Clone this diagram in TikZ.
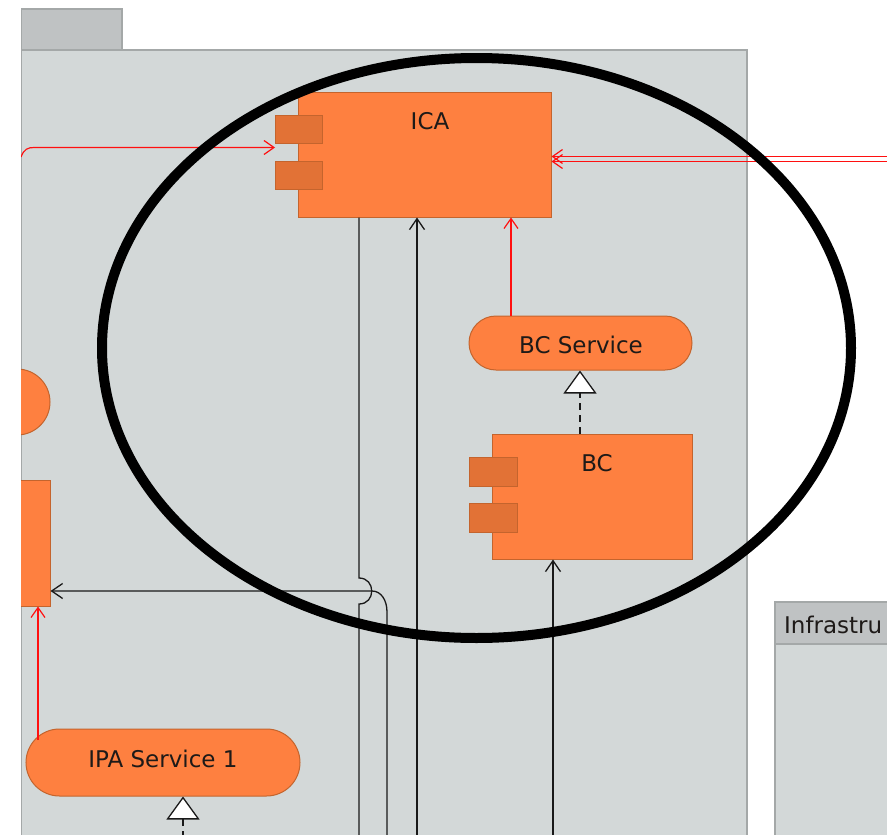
\documentclass[tikz,border=0pt]{standalone}
\usepackage{fontspec}
\setmainfont{DejaVu Sans}
\usetikzlibrary{arrows.meta,shapes.misc}
\definecolor{pkg}{HTML}{D3D8D8}
\definecolor{tabc}{HTML}{BFC2C3}
\definecolor{pkgline}{HTML}{A4A8A8}
\definecolor{orng}{HTML}{FE8040}
\definecolor{orngline}{HTML}{C4642D}
\definecolor{portc}{HTML}{E27236}
\definecolor{txt}{HTML}{1E1A18}
\definecolor{flowred}{HTML}{FF1010}
\begin{document}
\begin{tikzpicture}[x=1pt,y=-1pt,
  comp/.style={draw=orngline, fill=orng, line width=1pt, inner sep=0pt, rectangle},
  portbox/.style={draw=orngline, fill=portc, line width=1pt, minimum width=47pt, minimum height=28pt, inner sep=0pt},
  iface/.style={draw=orngline, fill=orng, line width=1pt, rounded rectangle, inner sep=0pt},
  lbl/.style={font=\fontsize{23}{28}\selectfont, text=txt, inner sep=0pt},
  pkgbox/.style={fill=pkg, draw=pkgline, line width=1.2pt},
  depline/.style={draw=black!90, line width=1.3pt},
  deparrow/.style={depline, -{Straight Barb[length=11pt,width=15pt,line width=1.3pt]}},
  redflow/.style={draw=flowred, line width=1.2pt, -{Straight Barb[length=10pt,width=14pt,line width=1.2pt]}},
  realize/.style={draw=black!90, line width=1.3pt, dash pattern=on 7pt off 5pt,
    -{Triangle[fill=white,length=23pt,width=33pt,line width=1.3pt]}},
  bigoval/.style={draw=black, line width=10pt}
]
\useasboundingbox (0,0) rectangle (887,835);
\fill[white] (0,0) rectangle (887,835);
\clip (21,0) rectangle (887,835);

% packages
\draw[pkgbox, fill=tabc] (21,9) rectangle (122,50);
\draw[pkgbox] (21,50) rectangle (747,850);
\draw[pkgbox] (775,602) rectangle (900,850);
\draw[pkgbox, fill=tabc] (775,602) rectangle (900,644);
\node[lbl, anchor=west] (infra) at (784,625) {Infrastru};

% left partial elements
\node[comp, circle, minimum size=66pt] (lcirc) at (17,402) {};
\node[comp, minimum width=70pt, minimum height=126pt] (lbox) at (15,543) {};

% ICA
\node[comp, minimum width=253pt, minimum height=125pt] (ica) at (424.5,154.5) {};
\node[portbox] (icap1) at (299,129) {};
\node[portbox] (icap2) at (299,175) {};
\node[lbl] (icat) at (430,121) {ICA};

% BC Service
\node[iface, minimum width=223pt, minimum height=54pt] (bcs) at (580.5,343) {};
\node[lbl] (bcst) at (581,345) {BC Service};

% BC
\node[comp, minimum width=200pt, minimum height=125pt] (bc) at (592,496.5) {};
\node[portbox, minimum width=48pt, minimum height=29pt] (bcp1) at (493,471.5) {};
\node[portbox, minimum width=48pt, minimum height=29pt] (bcp2) at (493,517.5) {};
\node[lbl] (bct) at (597,463) {BC};

% IPA Service 1
\node[iface, minimum width=274pt, minimum height=67pt] (ipa) at (163,762.5) {};
\node[lbl] (ipat) at (163,759) {IPA Service 1};

% free ends
\coordinate (redL) at (21,157);
\coordinate (rr1) at (890,156.5);
\coordinate (rr2) at (890,161.5);
\coordinate (ipaT) at (38,740);
\coordinate (b359) at (359,850);
\coordinate (b387) at (387,850);
\coordinate (b417) at (417,850);
\coordinate (b553) at (553,850);
\coordinate (b183) at (183,850);

% red connectors
\draw[redflow] (redL) .. controls (24,149) and (28,147.5) .. (34,147.5) -- (icap1.west |- 0,147.5);
\draw[redflow] (rr1) -- (ica.east |- rr1);
\draw[redflow] (rr2) -- (ica.east |- rr2);
\draw[redflow] (bcs.north -| 511,0) -- (ica.south -| 511,0);
\draw[redflow] (ipaT) -- (lbox.south -| ipaT);

% black connectors
\draw[depline] (ica.south -| b359) -- (359,578) .. controls (376,578) and (376,604) .. (359,604) -- (b359);
\draw[deparrow] (b387) -- (387,612) .. controls (387,600) and (381,591) .. (372,591) -- (lbox.east |- 0,591);
\draw[deparrow] (b417) -- (ica.south -| b417);
\draw[deparrow] (b553) -- (bc.south -| b553);

% realizations
\draw[realize] (bc.north -| 580,0) -- (bcs.south -| 580,0);
\draw[realize] (b183) -- (ipa.south -| b183);

% highlight ellipse
\draw[bigoval] (476.5,348) ellipse [x radius=374.5, y radius=290];
\end{tikzpicture}
\end{document}
